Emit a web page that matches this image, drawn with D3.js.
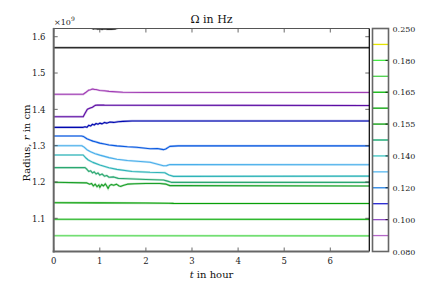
<!DOCTYPE html>
<html>
<head>
<meta charset="utf-8">
<script src="https://cdn.jsdelivr.net/npm/d3@7/dist/d3.min.js"></script>
<style>
  body { margin: 0; background: #fff; }
</style>
</head>
<body>
<svg id="chart" width="432" height="288" font-family="'DejaVu Serif', 'Liberation Serif', serif"></svg>
<script>
// radius curves, [t in hour, r in 1e9 cm]
var rTop = [[0.82,1.624],[0.86,1.6215],[0.9,1.6225],[0.95,1.621],[1.0,1.622],[1.05,1.6205],[1.1,1.622],[1.15,1.621],[1.2,1.6215],[1.25,1.6205],[1.33,1.6215],[1.4,1.624]];
var rBlack = [[0,1.5697],[6.85,1.5697]];
var rPurple = [[0,1.4414],[0.64,1.4414],[0.7,1.447],[0.76,1.453],[0.8,1.454],[0.84,1.456],[0.88,1.455],[0.92,1.4545],[1.0,1.452],[1.1,1.451],[1.2,1.4495],[1.5,1.447],[2.0,1.4465],[6.85,1.4465]];
var rViolet = [[0,1.3797],[0.64,1.3797],[0.68,1.389],[0.73,1.400],[0.78,1.403],[0.84,1.406],[0.9,1.411],[0.95,1.412],[1.1,1.4115],[6.85,1.4105]];
var rNavy = [[0,1.3505],[0.64,1.3505],[0.68,1.352],[0.72,1.3505],[0.76,1.356],[0.8,1.354],[0.84,1.359],[0.88,1.357],[0.92,1.361],[0.96,1.359],[1.0,1.362],[1.05,1.360],[1.1,1.364],[1.15,1.362],[1.22,1.365],[1.3,1.364],[1.4,1.366],[1.5,1.367],[1.7,1.368],[6.85,1.368]];
var rBlue = [[0,1.3266],[0.6,1.3266],[0.65,1.325],[0.72,1.319],[0.8,1.315],[0.85,1.3125],[0.9,1.311],[1.0,1.307],[1.1,1.3045],[1.2,1.302],[1.37,1.2995],[1.6,1.297],[1.8,1.2955],[2.09,1.2915],[2.25,1.292],[2.38,1.289],[2.43,1.291],[2.52,1.298],[2.7,1.2995],[6.85,1.2995]];
var rSky = [[0,1.2999],[0.61,1.2999],[0.66,1.296],[0.72,1.289],[0.8,1.283],[0.9,1.278],[1.0,1.274],[1.2,1.267],[1.37,1.2625],[1.6,1.259],[2.09,1.2545],[2.38,1.2445],[2.45,1.245],[2.52,1.248],[6.85,1.2476]];
var rTeal = [[0,1.2743],[0.64,1.2743],[0.7,1.266],[0.75,1.2605],[0.85,1.254],[1.0,1.2467],[1.2,1.239],[1.37,1.2348],[1.7,1.229],[2.09,1.2266],[2.41,1.2256],[2.5,1.219],[2.6,1.2155],[6.85,1.216]];
var rSea = [[0,1.2395],[0.68,1.2395],[0.72,1.235],[0.76,1.229],[0.8,1.231],[0.84,1.225],[0.88,1.228],[0.92,1.222],[0.96,1.225],[1.0,1.219],[1.05,1.222],[1.1,1.216],[1.15,1.218],[1.2,1.213],[1.3,1.214],[1.4,1.210],[1.6,1.209],[2.0,1.207],[2.38,1.2055],[2.45,1.203],[2.55,1.199],[2.8,1.199],[6.85,1.199]];
var rGreen = [[0,1.1991],[0.72,1.1975],[0.78,1.194],[0.82,1.196],[0.86,1.189],[0.9,1.194],[0.94,1.187],[0.98,1.192],[1.0,1.185],[1.04,1.193],[1.08,1.189],[1.12,1.195],[1.16,1.187],[1.18,1.182],[1.21,1.19],[1.25,1.193],[1.3,1.191],[1.36,1.194],[1.42,1.189],[1.46,1.188],[1.52,1.191],[1.6,1.194],[1.75,1.195],[2.0,1.196],[2.3,1.196],[2.44,1.194],[2.52,1.19],[2.7,1.19],[6.85,1.189]];
var rGreen2 = [[0,1.1429],[1.0,1.1425],[2.0,1.142],[2.5,1.1415],[2.6,1.141],[6.85,1.1408]];
var rGreen3 = [[0,1.0972],[6.85,1.097]];
var rLime = [[0,1.0521],[6.85,1.0515]];

var curves = [rTop, rBlack, rPurple, rViolet, rNavy, rBlue, rSky, rTeal, rSea, rGreen, rGreen2, rGreen3, rLime];
var curveColors = ["#000000","#000000","#a03cb4","#5c0ca4","#0008b0","#0a5ae0","#48aeea","#2eb4b8","#2aa870","#1aa028","#08a008","#22b422","#56d856"];

var xTicks = [0, 1, 2, 3, 4, 5, 6];
var yTicks = [1.1, 1.2, 1.3, 1.4, 1.5, 1.6];

// colorbar boundaries (Omega in Hz)
var omegaBounds = [0.25, 0.2, 0.18, 0.17, 0.165, 0.16, 0.155, 0.145, 0.14, 0.13, 0.12, 0.11, 0.10, 0.09, 0.08];
var omegaLabels = ["0.250","0.180","0.165","0.155","0.140","0.120","0.100","0.080"];
var omegaColors = [null,"#e4e400","#44ea44","#48d048","#00b400","#00a000","#009800","#00a064","#38c4c0","#56b8f0","#2280e2","#2222d0","#9050c4","#b466c8",null];

var svg = d3.select("#chart");
var L = 53.7, R = 369.3, T = 28.5, B = 251.5;

var x = d3.scaleLinear().domain([0, 6.846]).range([L, R]);
var y = d3.scaleLinear().domain([1.0086, 1.6226]).range([B, T]);

svg.append("clipPath").attr("id", "clip")
  .append("rect").attr("x", L).attr("y", T).attr("width", R - L).attr("height", B - T);

var line = d3.line().x(function (d) { return x(d[0]); }).y(function (d) { return y(d[1]); });

var plot = svg.append("g").attr("clip-path", "url(#clip)");
curves.forEach(function (c, i) {
  plot.append("path").attr("d", line(c))
    .attr("fill", "none").attr("stroke", curveColors[i])
    .attr("stroke-width", 2.2).attr("stroke-opacity", 0.3);
  plot.append("path").attr("d", line(c))
    .attr("fill", "none").attr("stroke", curveColors[i])
    .attr("stroke-width", 1.1).attr("stroke-linejoin", "round");
});

// ticks, inward on all four sides
var tk = svg.append("g").attr("stroke", "#444").attr("stroke-width", 0.8);
xTicks.forEach(function (v) {
  tk.append("line").attr("x1", x(v)).attr("x2", x(v)).attr("y1", B).attr("y2", B - 4);
  tk.append("line").attr("x1", x(v)).attr("x2", x(v)).attr("y1", T).attr("y2", T + 4);
});
yTicks.forEach(function (v) {
  tk.append("line").attr("x1", L).attr("x2", L + 4).attr("y1", y(v)).attr("y2", y(v));
  tk.append("line").attr("x1", R).attr("x2", R - 4).attr("y1", y(v)).attr("y2", y(v));
});

// spines
svg.append("line").attr("x1", L).attr("x2", R).attr("y1", T).attr("y2", T).attr("stroke", "#555").attr("stroke-width", 1.2);
svg.append("line").attr("x1", R).attr("x2", R).attr("y1", T).attr("y2", B).attr("stroke", "#000").attr("stroke-width", 1.2);
svg.append("line").attr("x1", L).attr("x2", L).attr("y1", T - 0.6).attr("y2", B + 1).attr("stroke", "#666").attr("stroke-width", 2);
svg.append("line").attr("x1", L - 1).attr("x2", R).attr("y1", B).attr("y2", B).attr("stroke", "#666").attr("stroke-width", 2);

// tick labels
svg.append("g").selectAll("text").data(xTicks).enter().append("text")
  .attr("x", function (d) { return x(d); }).attr("y", 264)
  .attr("text-anchor", "middle").attr("font-size", 8.5).attr("fill", "#222")
  .text(function (d) { return d; });
svg.append("g").selectAll("text").data(yTicks).enter().append("text")
  .attr("x", 45.5).attr("y", function (d) { return y(d) + 3.2; })
  .attr("text-anchor", "end").attr("font-size", 8.5).attr("fill", "#222")
  .text(function (d) { return d.toFixed(1); });

// offset text
var off = svg.append("text").attr("x", 54).attr("y", 24.5).attr("font-size", 8).attr("fill", "#222");
off.append("tspan").text("\u00d710");
off.append("tspan").attr("font-size", 6).attr("dy", -3.5).text("9");

// title and axis labels
svg.append("text").attr("x", 211.5).attr("y", 23).attr("text-anchor", "middle")
  .attr("font-size", 11).attr("fill", "#111").text("\u03a9 in Hz");
var xl = svg.append("text").attr("x", 211.5).attr("y", 278).attr("text-anchor", "middle")
  .attr("font-size", 10).attr("fill", "#111");
xl.append("tspan").attr("font-style", "italic").text("t");
xl.append("tspan").text(" in hour");
var yl = svg.append("text").attr("transform", "translate(30,143) rotate(-90)")
  .attr("text-anchor", "middle").attr("font-size", 10).attr("fill", "#111");
yl.append("tspan").text("Radius, ");
yl.append("tspan").attr("font-style", "italic").text("r");
yl.append("tspan").text(" in cm");

// colorbar
var cbL = 372.5, cbR = 388.5;
var cy = d3.scalePoint().domain(omegaBounds).range([T, B]);
var cb = svg.append("g");
omegaBounds.forEach(function (v, i) {
  if (omegaColors[i]) {
    cb.append("line").attr("x1", cbL).attr("x2", cbR).attr("y1", cy(v)).attr("y2", cy(v))
      .attr("stroke", omegaColors[i]).attr("stroke-width", 1.3);
  }
  if (i % 2 == 0) {
    cb.append("line").attr("x1", cbR - 3).attr("x2", cbR).attr("y1", cy(v)).attr("y2", cy(v))
      .attr("stroke", "#000").attr("stroke-width", 0.8);
    cb.append("text").attr("x", 392.5).attr("y", cy(v) + 3.2).attr("font-size", 8).attr("fill", "#222")
      .text(omegaLabels[i / 2]);
  }
});
cb.append("rect").attr("x", cbL).attr("y", T).attr("width", cbR - cbL).attr("height", B - T)
  .attr("fill", "none").attr("stroke", "#666").attr("stroke-width", 1.6);
</script>
</body>
</html>
